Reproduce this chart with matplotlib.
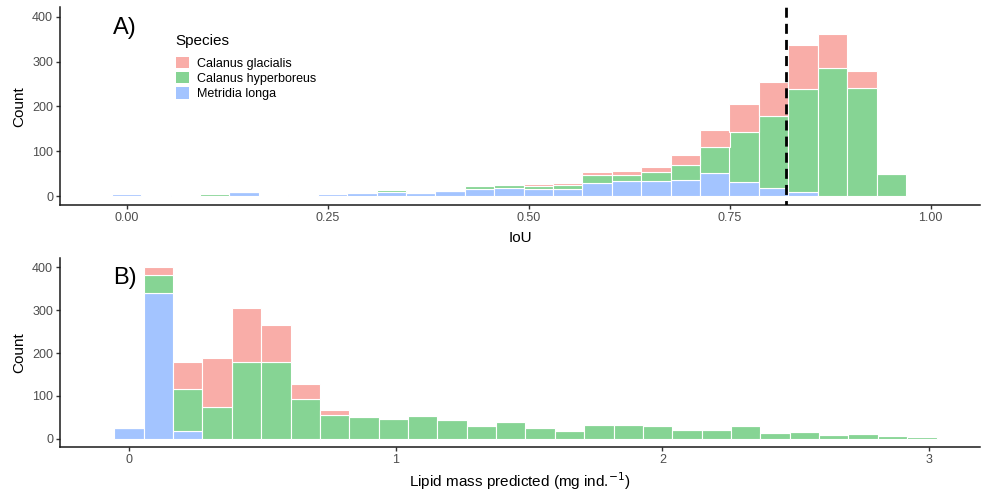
import numpy as np
import matplotlib
matplotlib.use("Agg")
import matplotlib.pyplot as plt
from matplotlib.patches import Patch

plt.rcParams['font.family'] = ['Liberation Sans', 'DejaVu Sans']

# ---------------- data ----------------
species = ["Calanus glacialis", "Calanus hyperboreus", "Metridia longa"]
colors = {"Calanus glacialis": "#F9ADA8",
          "Calanus hyperboreus": "#86D494",
          "Metridia longa": "#A3C4FF"}

# Panel A: IoU histogram (bin width and counts per bin, bins centred on k*width)
iou_binwidth = 0.75 / 20.5
iou_longa = [5, 3, 3, 0, 10, 0, 2, 4, 7, 10, 7, 11, 16, 19, 16, 16, 30, 34, 34, 35,
             51, 31, 19, 9, 0, 0, 0]
iou_hyper = [0, 0, 0, 4, 0, 0, 0, 0, 0, 3, 0, 0, 6, 5, 6, 8, 16, 14, 19, 35,
             59, 112, 160, 229, 286, 241, 50]
iou_glac = [0, 0, 0, 0, 0, 0, 0, 0, 0, 0, 0, 0, 0, 0, 5, 6, 7, 8, 11, 21,
            37, 62, 76, 99, 76, 37, 0]
iou_threshold = 0.82
iou_ticks = [0.00, 0.25, 0.50, 0.75, 1.00]
iou_ticklabels = ["0.00", "0.25", "0.50", "0.75", "1.00"]

# Panel B: lipid mass histogram
lip_binwidth = 0.1101
lip_longa = [26, 340, 19] + [0] * 25
lip_hyper = [0, 41, 98, 75, 178, 178, 93, 56, 50, 45, 54, 44, 30, 39, 26, 18, 33, 32,
             29, 20, 20, 30, 14, 16, 9, 12, 6, 4]
lip_glac = [0, 20, 61, 113, 126, 87, 35, 10] + [0] * 20
lip_ticks = [0, 1, 2, 3]
lip_ticklabels = ["0", "1", "2", "3"]

y_ticks = [0, 100, 200, 300, 400]

# ---------------- figure ----------------
W, H = 985, 495
fig = plt.figure(figsize=(W / 100, H / 100), dpi=100)

def px_axes(left, top, right, bottom):
    return fig.add_axes([left / W, 1 - bottom / H, (right - left) / W, (bottom - top) / H])

axA = px_axes(60, 7.3, 980, 205)
axB = px_axes(60, 258.3, 980, 447.3)

def stacked(ax, width, longa, hyper, glac):
    n = len(longa)
    centers = np.arange(n) * width
    longa = np.array(longa); hyper = np.array(hyper); glac = np.array(glac)
    kw = dict(width=width, edgecolor="white", linewidth=0.8, align="center")
    ax.bar(centers, longa, color=colors["Metridia longa"], **kw)
    ax.bar(centers, hyper, bottom=longa, color=colors["Calanus hyperboreus"], **kw)
    ax.bar(centers, glac, bottom=longa + hyper, color=colors["Calanus glacialis"], **kw)

stacked(axA, iou_binwidth, iou_longa, iou_hyper, iou_glac)
stacked(axB, lip_binwidth, lip_longa, lip_hyper, lip_glac)

axA.axvline(iou_threshold, color="black", lw=2.0, ls=(2.0, (3.6, 2.2)), zorder=5)

axA.set_xlim((60 - 126.5) / 804, (980 - 126.5) / 804)
axB.set_xlim((60 - 129) / 266.7, (980 - 129) / 266.7)
for ax in (axA, axB):
    ax.set_ylim(-20, 421)
    ax.set_yticks(y_ticks)
    ax.set_yticklabels([str(v) for v in y_ticks])
    for s in ("top", "right"):
        ax.spines[s].set_visible(False)
    for s in ("left", "bottom"):
        ax.spines[s].set_linewidth(1.1)
        ax.spines[s].set_color("#1a1a1a")
    ax.tick_params(axis="both", length=3, width=1, color="#333333",
                   labelcolor="#4D4D4D", labelsize=9, pad=2)
    ax.set_ylabel("Count", fontsize=11, labelpad=4)

axA.set_xticks(iou_ticks)
axA.set_xticklabels(iou_ticklabels)
axB.set_xticks(lip_ticks)
axB.set_xticklabels(lip_ticklabels)

axA.set_xlabel("IoU", fontsize=11, labelpad=5)
axB.set_xlabel("Lipid mass predicted (mg ind.$^{-1}$)", fontsize=11, labelpad=3)

fig.text(113 / W, 1 - 28 / H, "A)", fontsize=17, va="center", ha="left")
fig.text(113 / W, 1 - 278 / H, "B)", fontsize=17, va="center", ha="left")

# legend: title as separate text, keys below
fig.text(175 / W, 1 - 41.5 / H, "Species", fontsize=11, va="center", ha="left")
handles = [Patch(facecolor=colors[s], edgecolor="none", label=s) for s in species]
leg = axA.legend(handles=handles, loc="upper left",
                 bbox_to_anchor=(176 / W, 1 - 56.5 / H), bbox_transform=fig.transFigure,
                 frameon=False, fontsize=9, handlelength=1.0,
                 handleheight=1.05, labelspacing=0.18, handletextpad=0.7,
                 borderpad=0, borderaxespad=0)

fig.savefig("out.png", dpi=100)
